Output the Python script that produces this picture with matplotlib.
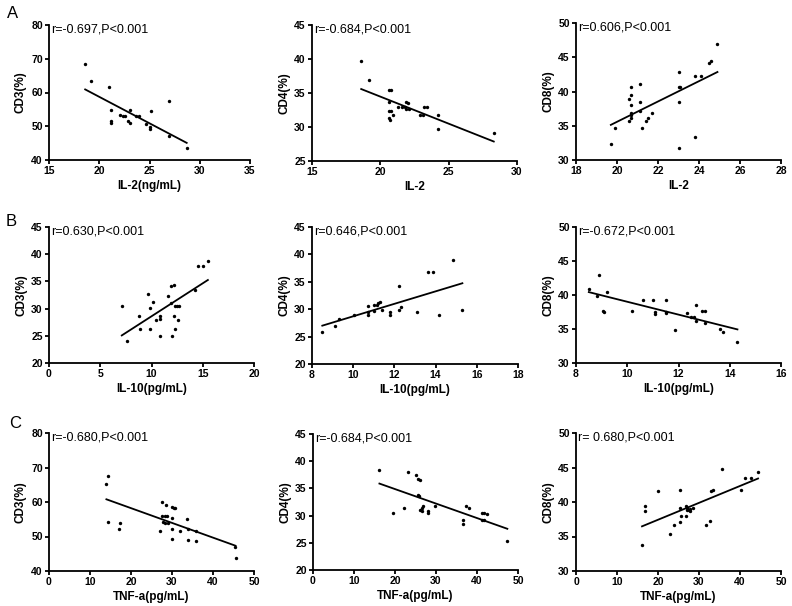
import matplotlib
matplotlib.use("Agg")
import matplotlib.pyplot as plt
import numpy as np

plt.rcParams['font.family'] = ['Liberation Sans', 'DejaVu Sans']

# Row A: IL-2
il2_cd3_x = [18.6, 19.2, 21.0, 21.2, 21.2, 21.2, 22.1, 22.4, 22.6, 22.9, 23.1, 23.1,
             23.7, 24.0, 24.7, 25.0, 25.0, 25.1, 26.9, 26.9, 28.7]
il2_cd3_y = [68.3, 63.4, 61.7, 54.8, 51.5, 51.0, 53.3, 53.0, 53.0, 51.6, 51.0, 54.8,
             53.0, 53.0, 50.6, 49.8, 49.1, 54.5, 57.4, 47.1, 43.6]

il2_cd4_x = [18.6, 19.2, 20.6, 20.8, 20.6, 20.6, 20.8, 20.6, 20.7, 20.9, 21.3, 21.6,
             21.8, 21.9, 22.0, 21.9, 22.1, 22.9, 23.1, 23.2, 23.4, 24.2, 24.2, 28.3]
il2_cd4_y = [39.7, 36.9, 35.4, 35.4, 33.7, 32.3, 32.3, 31.3, 31.1, 31.7, 33.0, 33.0,
             32.9, 33.7, 33.6, 32.6, 32.6, 31.8, 31.8, 33.0, 32.9, 31.7, 29.7, 29.1]

il2_cd8_x = [19.7, 19.9, 20.7, 20.7, 20.6, 20.7, 20.7, 20.7, 20.7, 20.6, 21.1, 21.1,
             21.1, 21.2, 21.4, 21.5, 21.7, 23.0, 23.0, 23.05, 23.0, 23.0, 23.8, 24.1,
             23.8, 24.5, 24.6, 24.9]
il2_cd8_y = [32.3, 34.7, 40.7, 39.5, 38.9, 38.0, 36.9, 36.6, 36.2, 35.7, 41.1, 38.5,
             37.1, 34.7, 35.7, 36.2, 36.9, 42.8, 40.7, 40.7, 38.5, 31.7, 42.3, 42.3,
             33.3, 44.1, 44.5, 46.9]

# Row B: IL-10
il10_cd3_x = [7.1, 7.6, 8.8, 8.9, 9.7, 9.9, 9.9, 10.1, 10.4, 10.8, 10.8, 10.8, 11.6,
              11.9, 12.2, 11.9, 12.0, 12.2, 12.3, 12.5, 12.65, 12.3, 12.6, 14.2, 14.5,
              15.0, 15.5]
il10_cd3_y = [30.4, 24.0, 28.7, 26.2, 32.6, 30.2, 26.2, 31.3, 27.9, 28.7, 28.1, 25.0,
              32.3, 34.2, 34.3, 31.1, 25.0, 28.7, 30.4, 30.4, 30.4, 26.2, 27.9, 33.4,
              37.8, 37.9, 38.8]

il10_cd4_x = [8.5, 9.1, 9.3, 10.05, 10.7, 10.7, 10.7, 11.0, 11.0, 11.15, 11.2, 11.3,
              11.4, 11.8, 11.8, 12.2, 12.2, 12.3, 13.1, 13.65, 13.85, 14.15, 14.85, 15.3]
il10_cd4_y = [25.8, 26.9, 28.3, 29.0, 30.5, 29.5, 28.9, 29.6, 30.8, 30.8, 31.1, 31.4,
              29.8, 29.5, 28.9, 34.2, 29.8, 30.4, 29.5, 36.7, 36.8, 29.0, 38.9, 29.8]

il10_cd8_x = [8.5, 8.8, 8.9, 9.2, 9.05, 9.1, 10.2, 10.6, 11.0, 11.1, 11.1, 11.5, 11.5,
              11.5, 11.85, 12.35, 12.5, 12.6, 12.7, 12.7, 12.9, 13.05, 13.05, 13.6,
              13.75, 14.3]
il10_cd8_y = [40.9, 39.8, 43.0, 40.5, 37.6, 37.5, 37.7, 39.3, 39.2, 37.5, 37.2, 39.3,
              37.5, 37.3, 34.9, 37.4, 36.7, 36.7, 38.6, 36.2, 37.7, 37.7, 35.9, 35.0,
              34.6, 33.1]

# Row C: TNF-a
tnf_cd3_x = [14.0, 14.4, 14.4, 17.0, 17.2, 27.0, 27.6, 27.6, 28.2, 27.8, 28.2, 28.6,
             28.8, 29.0, 30.0, 30.4, 30.8, 30.0, 30.1, 30.1, 31.9, 33.7, 33.9, 33.9,
             35.9, 35.9, 45.3, 45.5]
tnf_cd3_y = [65.1, 67.6, 54.3, 52.1, 53.8, 51.6, 59.9, 56.0, 56.0, 54.3, 54.0, 59.1,
             56.0, 53.8, 58.6, 58.4, 58.4, 55.4, 52.1, 49.2, 51.7, 55.0, 52.1, 48.9,
             51.7, 48.6, 47.0, 43.8]

tnf_cd4_x = [16.2, 19.4, 22.2, 23.1, 25.0, 25.5, 26.2, 25.7, 25.9, 26.1, 26.5, 26.5,
             26.9, 28.1, 28.1, 29.7, 36.5, 36.5, 37.4, 38.1, 41.1, 41.7, 42.5, 41.1,
             41.7, 47.4]
tnf_cd4_y = [38.4, 30.5, 31.4, 38.1, 37.5, 36.8, 36.6, 33.8, 33.6, 31.1, 31.4, 30.9,
             31.8, 30.9, 30.5, 31.8, 29.2, 28.4, 31.7, 31.4, 30.5, 30.5, 30.3, 29.2,
             29.2, 25.3]

tnf_cd8_x = [16.1, 16.9, 16.9, 19.9, 23.0, 24.0, 25.4, 25.4, 25.6, 25.4, 26.8, 27.1,
             26.8, 27.1, 27.5, 27.7, 27.9, 28.5, 31.7, 32.8, 33.0, 33.3, 35.6, 40.2,
             41.3, 42.7, 44.4]
tnf_cd8_y = [33.7, 39.4, 38.7, 41.6, 35.4, 36.7, 41.8, 39.1, 38.0, 37.1, 39.4, 39.2,
             38.0, 38.8, 38.8, 39.0, 38.7, 39.1, 36.7, 37.2, 41.6, 41.7, 44.8, 41.8,
             43.5, 43.5, 44.3]

r_texts = ["r=-0.697,P<0.001", "r=-0.684,P<0.001", "r=0.606,P<0.001",
           "r=0.630,P<0.001", "r=0.646,P<0.001", "r=-0.672,P<0.001",
           "r=-0.680,P<0.001", "r=-0.684,P<0.001", "r= 0.680,P<0.001"]
x_labels = ["IL-2(ng/mL)", "IL-2", "IL-2",
            "IL-10(pg/mL)", "IL-10(pg/mL)", "IL-10(pg/mL)",
            "TNF-a(pg/mL)", "TNF-a(pg/mL)", "TNF-a(pg/mL)"]
y_labels = ["CD3(%)", "CD4(%)", "CD8(%)"] * 3

xs = [il2_cd3_x, il2_cd4_x, il2_cd8_x, il10_cd3_x, il10_cd4_x, il10_cd8_x,
      tnf_cd3_x, tnf_cd4_x, tnf_cd8_x]
ys = [il2_cd3_y, il2_cd4_y, il2_cd8_y, il10_cd3_y, il10_cd4_y, il10_cd8_y,
      tnf_cd3_y, tnf_cd4_y, tnf_cd8_y]

# axis ranges (min, max, step)
x_ranges = [(15, 35, 5), (15, 30, 5), (18, 28, 2),
            (0, 20, 5), (8, 18, 2), (8, 16, 2),
            (0, 50, 10), (0, 50, 10), (0, 50, 10)]
y_ranges = [(40, 80, 10), (25, 45, 5), (30, 50, 5),
            (20, 45, 5), (20, 45, 5), (30, 50, 5),
            (40, 80, 10), (20, 45, 5), (30, 50, 5)]

# axes boxes in pixels: left, right, top, bottom
boxes = [(49, 250, 25, 160), (312, 517, 25, 161), (576, 781, 23, 160),
         (49, 254, 227, 363), (312, 518, 227, 364), (576, 781, 227, 363),
         (49, 254, 433, 571), (313, 518, 434, 570), (576, 781, 433, 571)]

W, H = 792, 606
fig = plt.figure(figsize=(W / 100, H / 100), dpi=100)

for i in range(9):
    l, r, t, b = boxes[i]
    ax = fig.add_axes([l / W, 1 - b / H, (r - l) / W, (b - t) / H])
    x = np.array(xs[i])
    y = np.array(ys[i])
    ax.scatter(x, y, s=6, color='black', zorder=3, linewidths=0)
    k, c = np.polyfit(x, y, 1)
    xx = np.array([x.min(), x.max()])
    ax.plot(xx, k * xx + c, color='black', lw=1.3)

    x0, x1, dx = x_ranges[i]
    y0, y1, dy = y_ranges[i]
    ax.set_xlim(x0, x1)
    ax.set_ylim(y0, y1)
    ax.set_xticks(np.arange(x0, x1 + dx / 2, dx))
    ax.set_yticks(np.arange(y0, y1 + dy / 2, dy))
    for s in ['top', 'right']:
        ax.spines[s].set_visible(False)
    for s in ['left', 'bottom']:
        ax.spines[s].set_linewidth(1.3)
    ax.tick_params(width=1.3, length=3, labelsize=7.5, pad=1.5)
    for lab in ax.get_xticklabels() + ax.get_yticklabels():
        lab.set_fontweight('bold')
    ax.set_xlabel(x_labels[i], fontsize=8.5, fontweight='bold', labelpad=3)
    ax.set_ylabel(y_labels[i], fontsize=8.5, fontweight='bold', labelpad=3)
    ax.text(0.01, 0.965, r_texts[i], transform=ax.transAxes, fontsize=9,
            ha='left', va='center')

fig.text(7 / W, 1 - 18 / H, "A", fontsize=12)
fig.text(6 / W, 1 - 226 / H, "B", fontsize=12)
fig.text(9 / W, 1 - 428 / H, "C", fontsize=12)

plt.savefig("out.png", dpi=100)
plt.close()
